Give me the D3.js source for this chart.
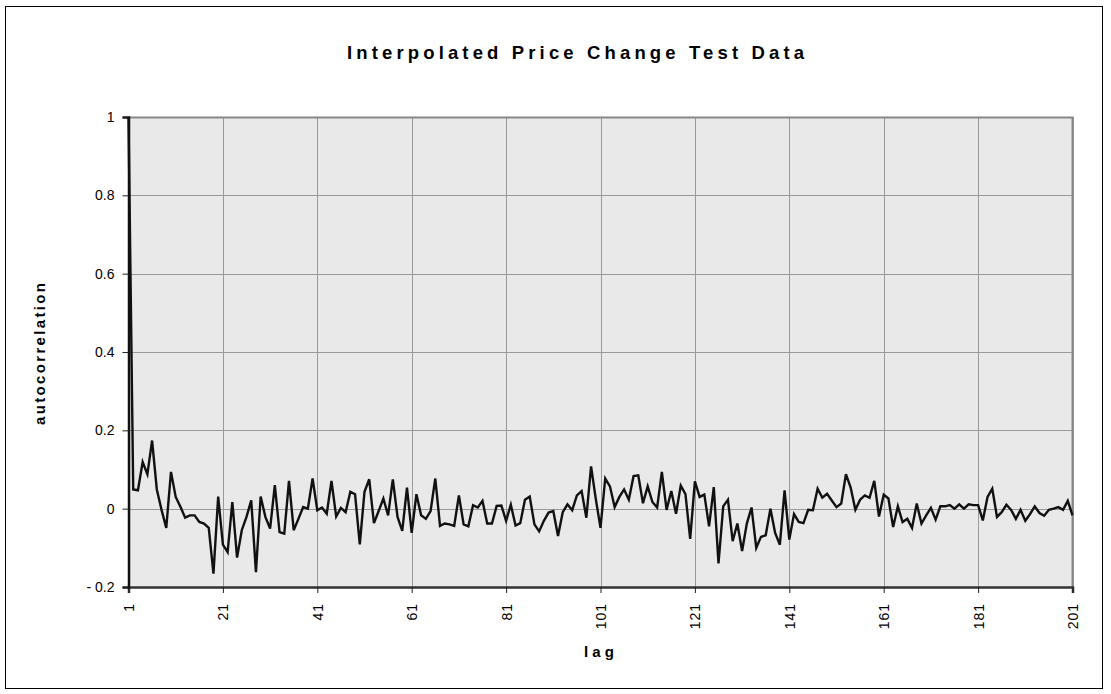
<!DOCTYPE html>
<html>
<head>
<meta charset="utf-8">
<script src="https://cdn.jsdelivr.net/npm/d3@7"></script>
<style>
  html, body { margin: 0; padding: 0; background: #fff; }
  svg { display: block; }
  text { font-family: "Liberation Sans", Arial, sans-serif; }
</style>
</head>
<body>
<svg id="chart" width="1111" height="694"></svg>
<script>
// ---- Data ----
const title = "Interpolated Price Change Test Data";
const xTitle = "lag";
const yTitle = "autocorrelation";
const xTickValues = [1, 21, 41, 61, 81, 101, 121, 141, 161, 181, 201];
const yTickValues = [-0.2, 0, 0.2, 0.4, 0.6, 0.8, 1];
const acf = [
  1.0, 0.049, 0.047, 0.119, 0.088, 0.174, 0.049, -0.003, -0.049, 0.094,
  0.030, 0.005, -0.023, -0.017, -0.017, -0.034, -0.038, -0.049, -0.166, 0.031,
  -0.092, -0.111, 0.017, -0.125, -0.055, -0.021, 0.021, -0.162, 0.031, -0.021,
  -0.051, 0.060, -0.060, -0.064, 0.071, -0.055, -0.026, 0.004, 0.0, 0.077,
  -0.004, 0.003, -0.013, 0.071, -0.020, 0.002, -0.009, 0.043, 0.037, -0.091,
  0.043, 0.075, -0.037, -0.006, 0.026, -0.017, 0.075, -0.021, -0.057, 0.054,
  -0.062, 0.037, -0.017, -0.026, -0.006, 0.077, -0.044, -0.038, -0.040, -0.044,
  0.034, -0.040, -0.045, 0.009, 0.003, 0.020, -0.038, -0.038, 0.007, 0.008,
  -0.031, 0.010, -0.043, -0.037, 0.023, 0.031, -0.040, -0.058, -0.031, -0.010,
  -0.006, -0.070, -0.009, 0.011, -0.004, 0.034, 0.045, -0.023, 0.108, 0.025,
  -0.049, 0.077, 0.057, 0.004, 0.030, 0.049, 0.023, 0.083, 0.085, 0.014,
  0.057, 0.017, 0.003, 0.094, -0.003, 0.045, -0.013, 0.059, 0.037, -0.077,
  0.070, 0.030, 0.036, -0.045, 0.055, -0.140, 0.006, 0.023, -0.083, -0.038,
  -0.108, -0.038, 0.003, -0.100, -0.072, -0.068, 0.0, -0.062, -0.092, 0.047,
  -0.079, -0.014, -0.034, -0.037, -0.003, -0.004, 0.051, 0.028, 0.038, 0.021,
  0.004, 0.013, 0.088, 0.054, -0.003, 0.023, 0.034, 0.028, 0.071, -0.020,
  0.036, 0.026, -0.047, 0.006, -0.034, -0.026, -0.049, 0.013, -0.038, -0.017,
  0.002, -0.028, 0.006, 0.006, 0.009, 0.0, 0.011, 0.0, 0.011, 0.009,
  0.009, -0.030, 0.030, 0.051, -0.021, -0.009, 0.010, -0.003, -0.026, -0.003,
  -0.031, -0.014, 0.006, -0.011, -0.018, -0.003, 0.0, 0.004, -0.003, 0.020,
  -0.017
];
const lags = acf.map((_, i) => i + 1);

// ---- Layout ----
const svg = d3.select("#chart");
const plot = { left: 128.5, right: 1072.5, top: 117, bottom: 587 };

// outer frame
svg.append("rect")
  .attr("x", 5.5).attr("y", 6.5)
  .attr("width", 1097).attr("height", 682)
  .attr("fill", "#fff").attr("stroke", "#000").attr("stroke-width", 1);

const x = d3.scaleLinear().domain([1, 201]).range([plot.left, plot.right]);
const y = d3.scaleLinear().domain([-0.2, 1]).range([plot.bottom, plot.top]);

// plot background
svg.append("rect")
  .attr("x", plot.left).attr("y", plot.top)
  .attr("width", plot.right - plot.left).attr("height", plot.bottom - plot.top)
  .attr("fill", "#e9e9e9");

// gridlines
const grid = svg.append("g").attr("stroke", "#9a9a9a").attr("stroke-width", 1);
grid.selectAll("line.v").data(xTickValues.slice(1)).join("line")
  .attr("x1", d => Math.round(x(d)) + 0.5).attr("x2", d => Math.round(x(d)) + 0.5)
  .attr("y1", plot.top).attr("y2", plot.bottom);
grid.selectAll("line.h").data(yTickValues.slice(1)).join("line")
  .attr("x1", plot.left).attr("x2", plot.right)
  .attr("y1", d => Math.round(y(d)) + 0.5).attr("y2", d => Math.round(y(d)) + 0.5);

// top & right border (gray)
svg.append("path")
  .attr("d", `M${plot.left},${plot.top + 0.5}H${plot.right}V${plot.bottom}`)
  .attr("fill", "none").attr("stroke", "#888").attr("stroke-width", 2);

// axes
const xAxis = d3.axisBottom(x).tickValues(xTickValues).tickSize(6).tickFormat(d3.format("d"));
const gx = svg.append("g").attr("transform", `translate(0,${plot.bottom})`).call(xAxis);
gx.select(".domain").attr("stroke", "#333").attr("stroke-width", 2.5);
gx.selectAll(".tick line").attr("stroke", "#222").attr("stroke-width", 1);
gx.selectAll(".tick text")
  .attr("transform", "rotate(-90)")
  .attr("text-anchor", "end")
  .attr("x", -16).attr("y", 0).attr("dy", "0.35em")
  .attr("font-size", 14).attr("fill", "#000")
  .attr("letter-spacing", 1)
  .style("font-family", '"Liberation Sans", Arial, sans-serif');

const yAxis = d3.axisLeft(y).tickValues(yTickValues).tickSize(6)
  .tickFormat(d => d === 1 ? "1" : (d === 0 ? "0" : (d < 0 ? "- " + d3.format(".1f")(-d) : d3.format(".1f")(d))));
const gy = svg.append("g").attr("transform", `translate(${plot.left},0)`).call(yAxis);
gy.select(".domain").attr("stroke", "#111").attr("stroke-width", 2.5);
gy.selectAll(".tick line").attr("stroke", "#222").attr("stroke-width", 1);
gy.selectAll(".tick text")
  .attr("x", -14)
  .attr("font-size", 14).attr("fill", "#000")
  .style("font-family", '"Liberation Sans", Arial, sans-serif');

// line
const line = d3.line().x((d, i) => x(lags[i])).y(d => y(d));
svg.append("path")
  .datum(acf)
  .attr("d", line)
  .attr("fill", "none").attr("stroke", "#111").attr("stroke-width", 2.4)
  .attr("stroke-linejoin", "miter");

// titles
svg.append("text")
  .attr("x", 347).attr("y", 59)
  .attr("text-anchor", "start")
  .attr("font-size", 18.5).attr("font-weight", "bold")
  .attr("textLength", 457).attr("lengthAdjust", "spacing")
  .text(title);

svg.append("text")
  .attr("x", 584).attr("y", 657)
  .attr("text-anchor", "start")
  .attr("font-size", 15).attr("font-weight", "bold")
  .attr("textLength", 30).attr("lengthAdjust", "spacing")
  .text(xTitle);

svg.append("text")
  .attr("transform", `translate(45,425) rotate(-90)`)
  .attr("text-anchor", "start")
  .attr("font-size", 15).attr("font-weight", "bold")
  .attr("textLength", 142).attr("lengthAdjust", "spacing")
  .text(yTitle);
</script>
</body>
</html>
